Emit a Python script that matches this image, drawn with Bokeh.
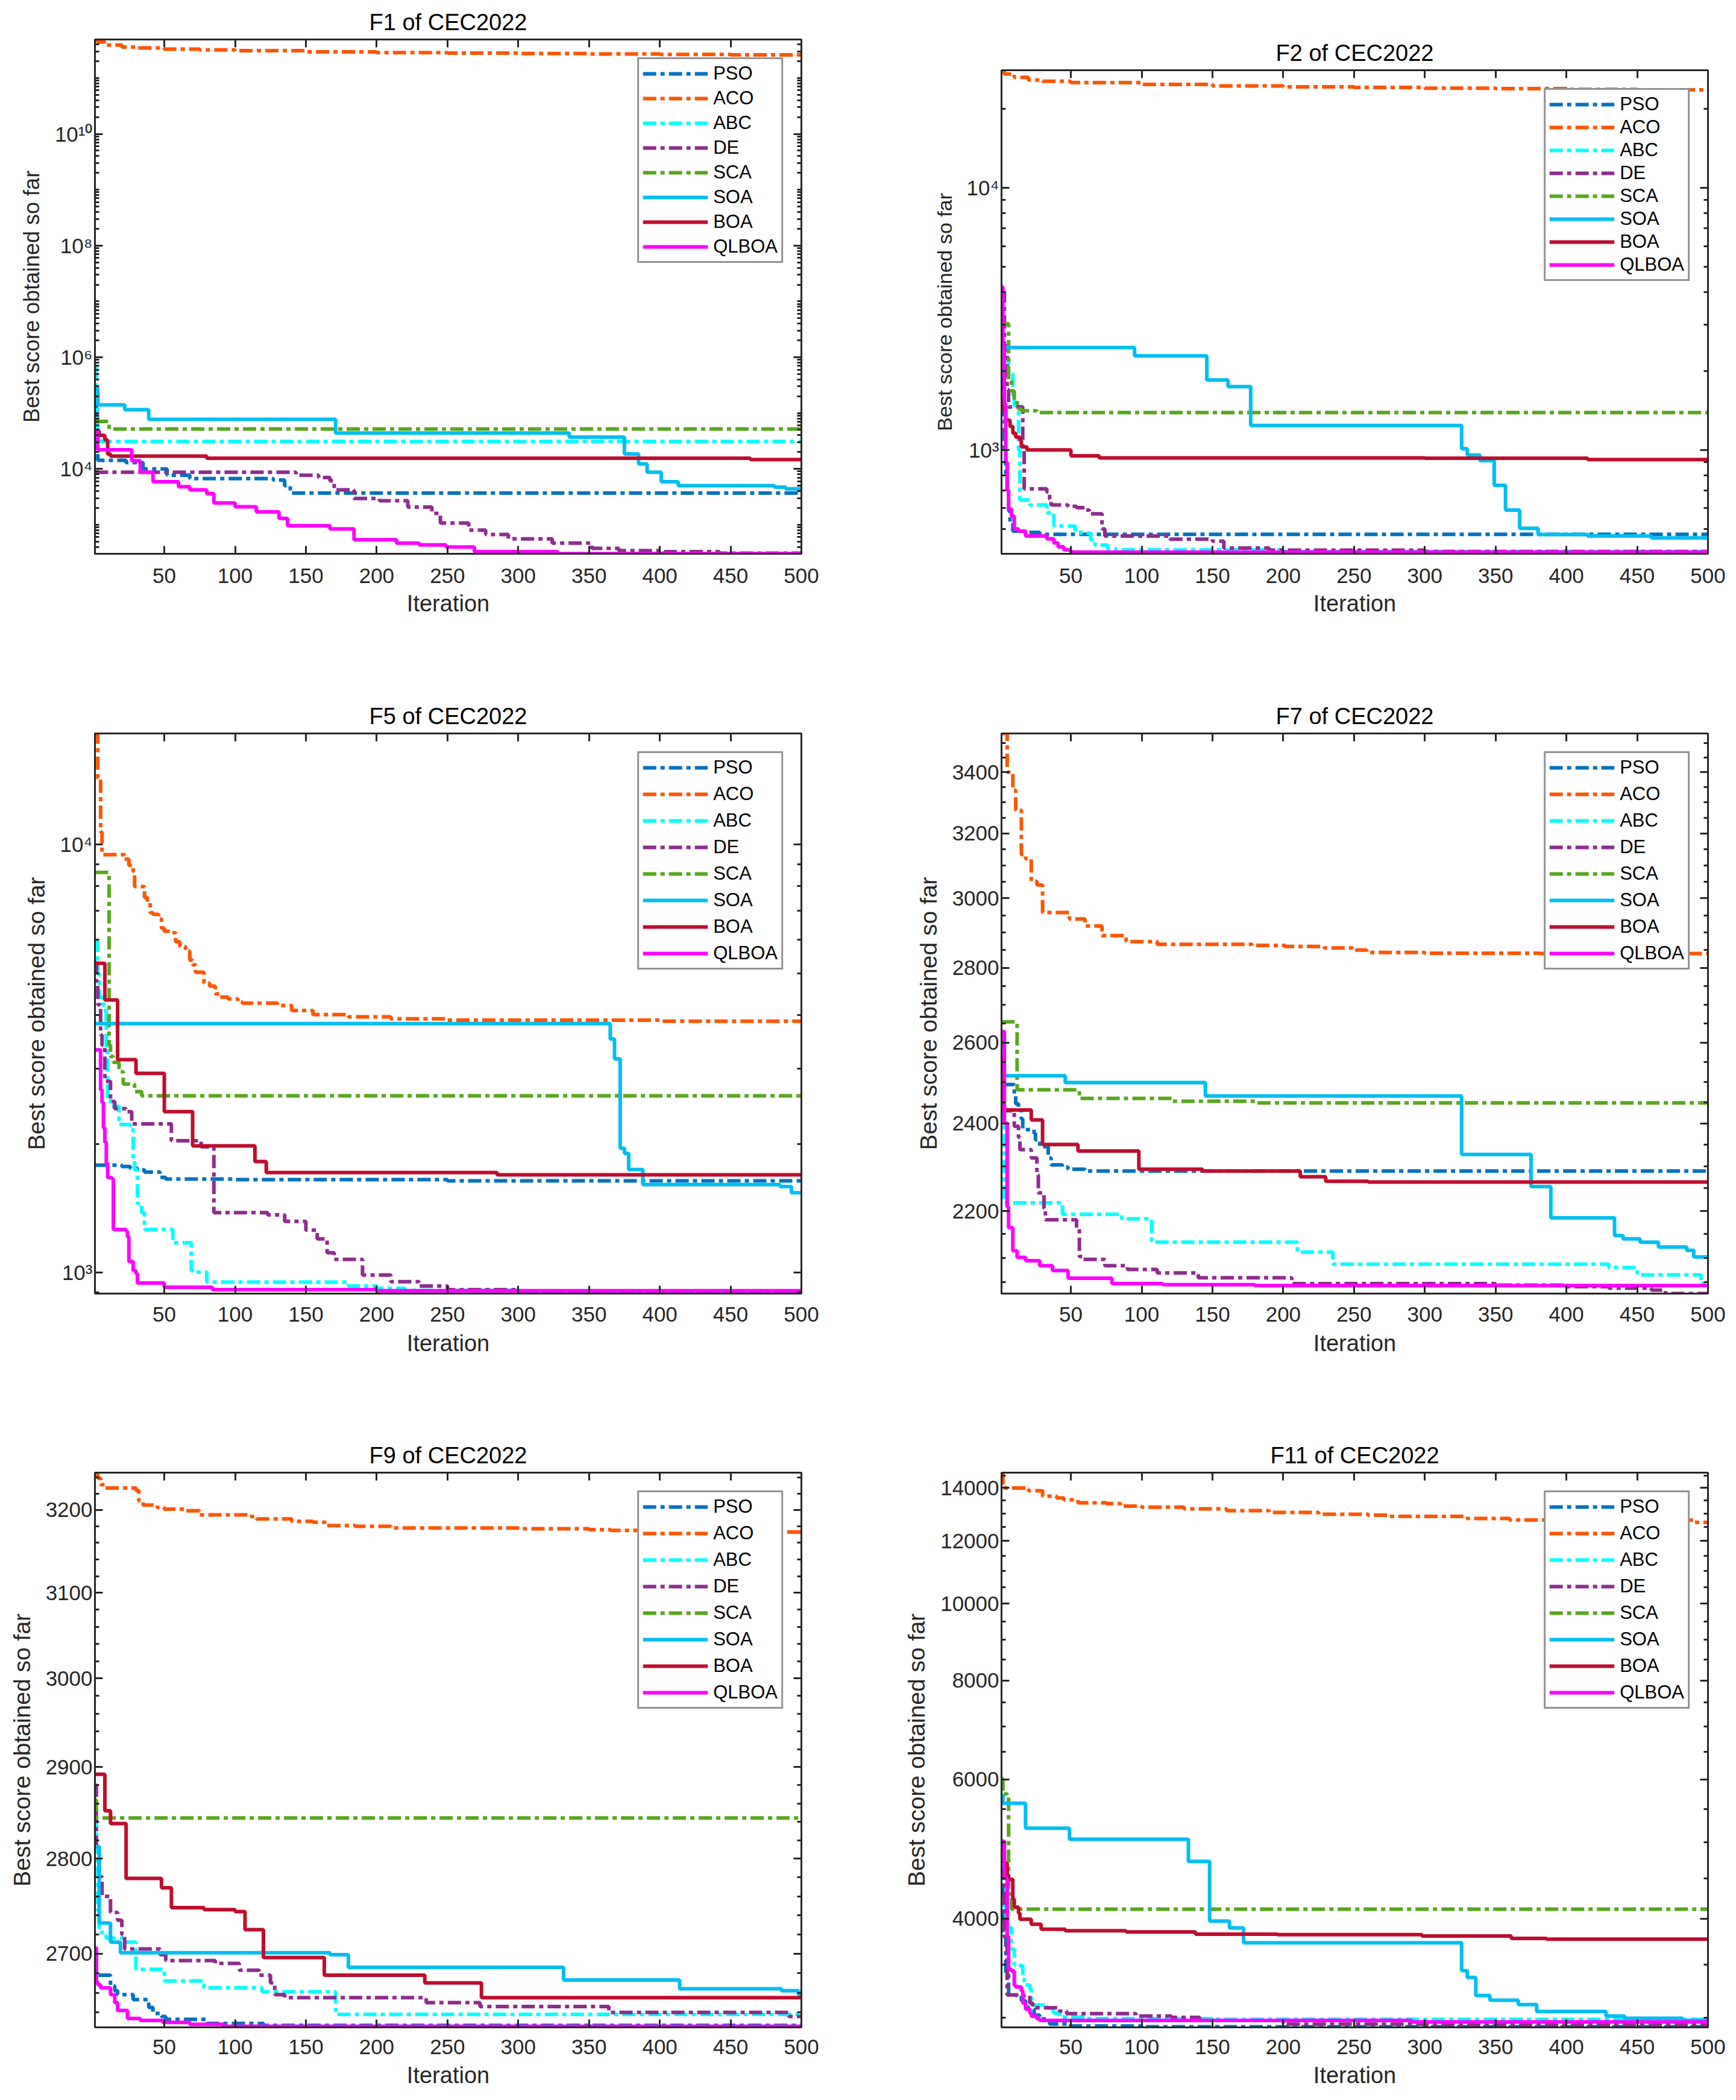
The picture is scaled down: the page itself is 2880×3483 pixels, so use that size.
from bokeh.plotting import figure
from bokeh.models import Range1d, FixedTicker, LinearAxis, LogAxis, CustomJSTickFormatter, Spacer
from bokeh.layouts import column, row
from bokeh.embed import file_html
from bokeh.resources import INLINE

ALGOS = ["PSO", "ACO", "ABC", "DE", "SCA", "SOA", "BOA", "QLBOA"]
LINE_COLORS = ["#0072C0", "#FF5500", "#00FFFF", "#8E2D8E", "#58A81C", "#00BEF2", "#BE0E2E", "#FF00FF"]
LINE_DASHES = ["22 7 7 7", "22 7 7 7", "22 7 7 7", "22 7 7 7", "22 7 7 7", "solid", "solid", "solid"]

X_TICKS = [50, 100, 150, 200, 250, 300, 350, 400, 450, 500]

# ---------------- F1 (iteration, best score) breakpoints ----------------
F1_PSO = [(1, 1.4e5), (2, 4.0e4), (3, 1.42e4), (23, 1.3e4), (35, 1.0e4), (52, 7.7e3), (68, 6.7e3),
          (127, 6.3e3), (135, 5.0e3), (139, 3.7e3), (500, 3.6e3)]
F1_ACO = [(1, 4.9e11), (3, 4.4e11), (8, 3.9e11), (20, 3.6e11), (30, 3.45e11), (50, 3.3e11), (75, 3.2e11),
          (100, 3.1e11), (150, 2.95e11), (200, 2.85e11), (250, 2.8e11), (300, 2.75e11), (350, 2.7e11),
          (400, 2.65e11), (450, 2.6e11), (500, 2.57e11)]
F1_ABC = [(1, 6.6e5), (2, 2.3e5), (3, 4.0e4), (5, 3.1e4), (500, 3.1e4)]
F1_DE = [(1, 8.7e3), (143, 7.7e3), (159, 7.0e3), (167, 6.1e3), (170, 4.2e3), (184, 2.95e3), (202, 2.7e3),
         (222, 2.08e3), (239, 1.6e3), (245, 1.07e3), (265, 800), (277, 670), (293, 560), (324, 470),
         (352, 377), (371, 345), (403, 330), (442, 310), (500, 305)]
F1_SCA = [(1, 7.1e4), (11, 5.2e4), (500, 5.2e4)]
F1_SOA = [(1, 2.8e5), (3, 1.4e5), (22, 1.15e5), (39, 7.7e4), (171, 4.4e4), (336, 3.7e4), (375, 1.85e4),
          (385, 1.23e4), (391, 8.7e3), (401, 5.9e3), (413, 5.0e3), (481, 4.7e3), (489, 4.4e3), (500, 4.4e3)]
F1_BOA = [(1, 4.8e4), (4, 4.0e4), (8, 3.3e4), (10, 1.85e4), (12, 1.7e4), (80, 1.55e4), (464, 1.47e4),
          (500, 1.47e4)]
F1_QLBOA = [(1, 4.8e4), (3, 2.2e4), (27, 1.4e4), (33, 8.7e3), (42, 5.9e3), (60, 4.8e3), (68, 4.2e3),
            (80, 3.6e3), (85, 2.45e3), (100, 2.1e3), (115, 1.7e3), (131, 1.3e3), (137, 960), (167, 840),
            (184, 540), (214, 470), (230, 435), (249, 400), (269, 330), (328, 303), (500, 302)]

# ---------------- F2 ----------------
F2_PSO = [(1, 1870), (2, 1300), (3, 1000), (4, 800), (5, 698), (6, 586), (7, 525), (9, 490), (20, 485),
          (28, 477), (500, 473)]
F2_ACO = [(1, 2.81e4), (3, 2.72e4), (10, 2.64e4), (20, 2.58e4), (30, 2.55e4), (50, 2.52e4), (100, 2.48e4),
          (150, 2.45e4), (200, 2.43e4), (250, 2.415e4), (300, 2.40e4), (350, 2.39e4), (400, 2.375e4),
          (450, 2.365e4), (500, 2.36e4)]
F2_ABC = [(1, 2225), (6, 1950), (9, 1620), (10, 1480), (13, 1000), (14, 645), (21, 617), (33, 576), (38, 513),
          (53, 495), (57, 482), (64, 454), (67, 434), (76, 420), (82, 416), (200, 410), (500, 408)]
F2_DE = [(1, 4000), (3, 2500), (5, 1700), (6, 1460), (16, 1000), (17, 711), (33, 692), (35, 650), (36, 617),
         (48, 610), (54, 603), (60, 590), (63, 571), (72, 500), (74, 470), (120, 457), (150, 449), (158, 423),
         (190, 415), (300, 410), (500, 402)]
F2_SCA = [(1, 3100), (2, 3035), (6, 1860), (8, 1680), (10, 1540), (12, 1435), (15, 1413), (26, 1390),
          (500, 1390)]
F2_SOA = [(1, 2460), (95, 2285), (146, 1850), (161, 1745), (177, 1240), (326, 1011), (330, 957), (339, 911),
          (349, 733), (357, 590), (367, 503), (380, 476), (415, 470), (460, 462), (500, 462)]
F2_BOA = [(1, 1570), (2, 1430), (4, 1300), (7, 1230), (9, 1160), (11, 1120), (14, 1090), (15, 1028),
          (19, 1001), (50, 950), (70, 933), (300, 930), (415, 920), (500, 918)]
F2_QLBOA = [(1, 4195), (2, 2500), (3, 1500), (4, 900), (5, 700), (6, 596), (8, 560), (10, 500), (13, 490),
            (18, 470), (33, 458), (38, 442), (41, 427), (45, 416), (50, 408), (500, 406)]

# ---------------- F5 ----------------
F5_PSO = [(1, 1784), (20, 1771), (26, 1754), (31, 1740), (36, 1718), (47, 1670), (51, 1655), (100, 1650),
          (250, 1640), (500, 1633)]
F5_ACO = [(1, 18190), (3, 14300), (5, 10700), (6, 9475), (22, 9247), (25, 8950), (28, 8660), (29, 7980),
          (36, 7526), (38, 7345), (40, 6935), (42, 6877), (46, 6710), (48, 6383), (50, 6280), (55, 6230),
          (58, 5932), (61, 5785), (65, 5645), (68, 5375), (70, 5238), (72, 5035), (78, 4750), (82, 4674),
          (86, 4482), (89, 4406), (95, 4362), (102, 4292), (105, 4264), (130, 4210), (140, 4100), (155, 4010),
          (180, 3960), (210, 3920), (250, 3890), (400, 3870), (500, 3855)]
F5_ABC = [(1, 5940), (3, 5000), (4, 4400), (7, 4100), (9, 3300), (10, 2570), (12, 2450), (18, 2220),
          (26, 2156), (28, 1828), (29, 1740), (31, 1452), (34, 1382), (36, 1263), (56, 1175), (69, 1011),
          (71, 1003), (80, 951), (180, 931), (200, 920), (220, 909), (300, 904), (500, 898)]
F5_DE = [(1, 5300), (2, 4800), (3, 4230), (5, 3590), (6, 3400), (8, 2800), (12, 2512), (15, 2418),
         (23, 2379), (27, 2227), (55, 2035), (76, 1969), (85, 1382), (123, 1365), (135, 1318), (150, 1258),
         (158, 1200), (165, 1114), (170, 1075), (190, 988), (210, 953), (230, 931), (250, 913), (300, 896),
         (500, 894)]
F5_SCA = [(1, 8610), (11, 3400), (12, 3200), (14, 3100), (18, 2950), (21, 2760), (29, 2650), (34, 2590),
          (500, 2590)]
F5_SOA = [(1, 3820), (365, 3515), (368, 3160), (372, 1954), (375, 1900), (378, 1742), (388, 1607),
          (485, 1590), (493, 1538), (500, 1538)]
F5_BOA = [(1, 5284), (8, 4337), (17, 3147), (30, 2922), (50, 2379), (70, 1979), (114, 1819), (122, 1715),
          (285, 1693), (500, 1693)]
F5_QLBOA = [(1, 3317), (5, 2673), (6, 2500), (7, 2180), (8, 2018), (9, 1800), (10, 1669), (13, 1657),
            (14, 1262), (23, 1249), (24, 1213), (25, 1062), (28, 1011), (30, 995), (31, 946), (50, 925),
            (84, 913), (200, 908), (500, 908)]

# ---------------- F7 ----------------
F7_PSO = [(1, 2494), (10, 2466), (11, 2447), (13, 2432), (15, 2410), (16, 2385), (24, 2376), (25, 2361),
          (28, 2345), (34, 2319), (36, 2303), (44, 2298), (48, 2293), (60, 2289), (500, 2289)]
F7_ACO = [(1, 3533), (5, 3400), (9, 3340), (11, 3274), (15, 3133), (18, 3120), (22, 3051), (26, 3040),
          (30, 2958), (49, 2939), (60, 2919), (72, 2891), (89, 2874), (111, 2866), (178, 2863), (201, 2860),
          (229, 2856), (249, 2850), (259, 2843), (300, 2841), (381, 2840), (500, 2835)]
F7_ABC = [(1, 2430), (3, 2218), (44, 2193), (86, 2183), (107, 2133), (210, 2112), (235, 2087), (430, 2080),
          (450, 2065), (495, 2047), (500, 2047)]
F7_DE = [(1, 2500), (3, 2430), (10, 2393), (13, 2367), (14, 2338), (22, 2319), (26, 2280), (27, 2240),
         (31, 2206), (32, 2181), (54, 2162), (56, 2103), (58, 2097), (74, 2084), (90, 2076), (111, 2069),
         (140, 2059), (206, 2047), (350, 2044), (400, 2041), (430, 2038), (460, 2034), (470, 2027), (500, 2027)]
F7_SCA = [(1, 2654), (12, 2481), (56, 2460), (122, 2453), (181, 2449), (500, 2449)]
F7_SOA = [(1, 2516), (46, 2499), (145, 2466), (326, 2327), (375, 2254), (389, 2185), (434, 2147),
          (440, 2140), (452, 2133), (465, 2123), (485, 2116), (490, 2102), (500, 2102)]
F7_BOA = [(1, 2560), (2, 2432), (22, 2408), (30, 2350), (55, 2335), (98, 2293), (143, 2289), (212, 2276),
          (230, 2266), (260, 2264), (500, 2264)]
F7_QLBOA = [(1, 2629), (3, 2400), (5, 2209), (6, 2164), (9, 2115), (12, 2101), (18, 2094), (28, 2084),
            (37, 2074), (48, 2058), (79, 2047), (115, 2045), (180, 2043), (500, 2043)]

# ---------------- F9 ----------------
F9_PSO = [(1, 2701), (2, 2678), (12, 2667), (15, 2662), (17, 2658), (28, 2653), (39, 2645), (42, 2639),
          (48, 2636), (51, 2633), (80, 2629), (120, 2627), (500, 2626)]
F9_ACO = [(1, 3246), (3, 3239), (5, 3231), (8, 3227), (30, 3224), (32, 3211), (35, 3206), (45, 3203),
          (50, 3201), (65, 3199), (75, 3194), (110, 3192), (115, 3189), (140, 3186), (155, 3185), (165, 3181),
          (185, 3180), (210, 3178), (300, 3177), (350, 3176), (365, 3175), (420, 3173), (500, 3171)]
F9_ABC = [(1, 2846), (2, 2790), (3, 2745), (4, 2722), (9, 2716), (21, 2712), (30, 2684), (50, 2672),
          (78, 2665), (119, 2661), (171, 2638), (500, 2637)]
F9_DE = [(1, 2880), (2, 2813), (4, 2781), (6, 2760), (12, 2743), (17, 2735), (20, 2720), (22, 2705),
         (47, 2699), (51, 2693), (86, 2690), (103, 2683), (117, 2678), (125, 2670), (128, 2658), (135, 2655),
         (235, 2650), (273, 2646), (364, 2640), (491, 2636), (500, 2636)]
F9_SCA = [(1, 2864), (2, 2844), (500, 2844)]
F9_SOA = [(1, 2813), (4, 2732), (12, 2712), (19, 2701), (167, 2699), (180, 2686), (332, 2673), (414, 2664),
          (486, 2662), (498, 2658), (500, 2658)]
F9_BOA = [(1, 2892), (8, 2852), (12, 2838), (23, 2779), (48, 2769), (55, 2748), (78, 2746), (100, 2744),
          (107, 2725), (120, 2696), (163, 2678), (234, 2670), (274, 2655), (500, 2655)]
F9_QLBOA = [(1, 2706), (2, 2671), (3, 2668), (5, 2665), (12, 2658), (15, 2650), (17, 2642), (24, 2634),
            (33, 2632), (49, 2630), (68, 2628), (92, 2626), (500, 2625)]

# ---------------- F11 ----------------
F11_PSO = [(1, 4400), (2, 3800), (4, 3400), (6, 3205), (15, 3152), (18, 3097), (20, 3075), (24, 3022),
           (28, 2990), (35, 2945), (48, 2928), (100, 2922), (500, 2917)]
F11_ACO = [(1, 14640), (2, 14000), (18, 13950), (20, 13890), (30, 13675), (40, 13600), (45, 13530),
           (55, 13410), (75, 13380), (85, 13285), (100, 13240), (130, 13180), (160, 13110), (190, 13040),
           (225, 12970), (260, 12940), (275, 12890), (330, 12815), (360, 12760), (420, 12750), (490, 12670),
           (500, 12670)]
F11_ABC = [(1, 4160), (4, 3900), (8, 3662), (10, 3498), (14, 3488), (16, 3357), (17, 3299), (21, 3262),
           (22, 3168), (23, 3113), (32, 3094), (34, 3059), (38, 3041), (42, 3006), (60, 2992), (150, 2985),
           (500, 2976)]
F11_DE = [(1, 4990), (2, 4500), (3, 3800), (5, 3205), (12, 3197), (21, 3130), (23, 3100), (25, 3088),
          (42, 3059), (47, 3036), (96, 3015), (121, 3003), (141, 2976), (200, 2944), (300, 2936), (500, 2929)]
F11_SCA = [(1, 6010), (2, 5750), (5, 5700), (6, 4300), (8, 4113), (500, 4110)]
F11_SOA = [(1, 5730), (2, 5598), (18, 5204), (49, 5041), (133, 4727), (148, 3973), (162, 3896), (172, 3730),
           (326, 3439), (330, 3372), (336, 3199), (346, 3157), (366, 3116), (379, 3055), (428, 3015),
           (441, 2995), (482, 2976), (500, 2976)]
F11_BOA = [(1, 4870), (3, 4700), (5, 4543), (6, 4487), (9, 4236), (10, 4137), (13, 4065), (14, 3995),
           (22, 3937), (29, 3881), (46, 3863), (89, 3850), (138, 3825), (196, 3820), (298, 3805), (361, 3778),
           (386, 3770), (500, 3770)]
F11_QLBOA = [(1, 5012), (3, 4500), (5, 3800), (6, 3454), (8, 3436), (10, 3296), (11, 3281), (15, 3244),
             (16, 3130), (18, 3076), (21, 3040), (22, 3013), (26, 2991), (28, 2976), (291, 2964), (500, 2964)]

# ---------------- y tick positions ----------------
F1_Y_TICKS = [1e4, 1e6, 1e8, 1e10]
F1_Y_MINOR = [k * 10.0 ** n for n in range(2, 12) for k in range(1, 10) if k * 10.0 ** n not in F1_Y_TICKS]
F2_Y_TICKS = [1e3, 1e4]
F2_Y_MINOR = [k * 10.0 ** n for n in (2, 3, 4) for k in range(1, 10) if k * 10.0 ** n not in F2_Y_TICKS]
F5_Y_TICKS = [1e3, 1e4]
F5_Y_MINOR = [k * 10.0 ** n for n in (2, 3, 4) for k in range(1, 10) if k * 10.0 ** n not in F5_Y_TICKS]
F7_Y_TICKS = [2200, 2400, 2600, 2800, 3000, 3200, 3400]
F7_Y_MINOR = [v for v in range(2000, 3601, 50) if v not in F7_Y_TICKS]
F9_Y_TICKS = [2700, 2800, 2900, 3000, 3100, 3200]
F9_Y_MINOR = [v for v in range(2600, 3261, 20) if v not in F9_Y_TICKS]
F11_Y_TICKS = [4000, 6000, 8000, 10000, 12000, 14000]
F11_Y_MINOR = [v for v in range(2500, 15001, 500) if v not in F11_Y_TICKS]

FONT = "Liberation Sans"
AX_COLOR = "#262626"

SUP_JS = """
const s = ['\\u2070','\\u00B9','\\u00B2','\\u00B3','\\u2074','\\u2075','\\u2076','\\u2077','\\u2078','\\u2079'];
const e = Math.round(Math.log10(tick));
return '10' + String(e).split('').map(c => s[parseInt(c)]).join('');
"""
PLAIN_JS = "return Math.round(tick).toString();"
EMPTY_JS = "return '';"


def style_axis(ax, tick_len=13, minor_len=7):
    ax.axis_line_color = AX_COLOR
    ax.axis_line_width = 3
    ax.major_tick_line_color = AX_COLOR
    ax.major_tick_line_width = 3
    ax.minor_tick_line_color = AX_COLOR
    ax.minor_tick_line_width = 3
    ax.major_tick_in = tick_len
    ax.major_tick_out = 0
    ax.minor_tick_in = minor_len
    ax.minor_tick_out = 0
    ax.major_label_text_font = FONT
    ax.major_label_text_color = AX_COLOR
    ax.axis_label_text_font = FONT
    ax.axis_label_text_color = AX_COLOR
    ax.axis_label_text_font_style = "normal"


def build(title, series, yticks, yminor, sup, w, h, borders, ylab_size, leg_spacing, xstand=(20, 10)):
    vals = [v for s in series for (_, v) in s]
    lo, hi = min(vals), max(vals)
    left, right, top, bottom = borders
    p = figure(width=w, height=h, x_range=Range1d(1, 500), y_range=Range1d(lo, hi),
               y_axis_type="log", output_backend="svg", toolbar_location=None,
               min_border_left=left, min_border_right=right, min_border_top=top, min_border_bottom=bottom)
    p.title = None
    p.background_fill_color = "white"
    p.border_fill_color = "white"
    p.outline_line_color = AX_COLOR
    p.outline_line_width = 3
    p.xgrid.grid_line_color = None
    p.ygrid.grid_line_color = None

    for s, name, col, dash in zip(series, ALGOS, LINE_COLORS, LINE_DASHES):
        xs = [it for (it, _) in s]
        ys = [v for (_, v) in s]
        p.step(xs, ys, mode="after", line_color=col, line_width=6, line_dash=dash, legend_label=name)

    xa = p.xaxis[0]
    style_axis(xa)
    xa.ticker = FixedTicker(ticks=X_TICKS, minor_ticks=[])
    xa.axis_label = "Iteration"
    xa.axis_label_text_font_size = "38px"
    xa.major_label_text_font_size = "35px"
    xa.major_label_standoff = xstand[0]
    xa.axis_label_standoff = xstand[1]

    ya = p.yaxis[0]
    style_axis(ya)
    ya.ticker = FixedTicker(ticks=yticks, minor_ticks=yminor)
    ya.formatter = CustomJSTickFormatter(code=SUP_JS if sup else PLAIN_JS)
    ya.axis_label = "Best score obtained so far"
    ya.axis_label_text_font_size = "%dpx" % ylab_size
    ya.major_label_text_font_size = "35px"
    ya.major_label_standoff = 4
    ya.axis_label_standoff = 15

    # top axis: inward ticks, carries the panel title as its label
    top_ax = LinearAxis(ticker=FixedTicker(ticks=X_TICKS, minor_ticks=[]),
                        formatter=CustomJSTickFormatter(code=EMPTY_JS))
    style_axis(top_ax)
    top_ax.major_label_text_font_size = "1px"
    top_ax.major_label_standoff = 0
    top_ax.axis_label = title
    top_ax.axis_label_text_font_size = "38px"
    top_ax.axis_label_text_color = "#000000"
    top_ax.axis_label_standoff = 8
    p.add_layout(top_ax, "above")

    right_ax = LogAxis(ticker=FixedTicker(ticks=yticks, minor_ticks=yminor),
                       formatter=CustomJSTickFormatter(code=EMPTY_JS))
    style_axis(right_ax)
    right_ax.major_label_text_font_size = "1px"
    right_ax.major_label_standoff = 0
    p.add_layout(right_ax, "right")

    lg = p.legend[0]
    lg.location = "top_right"
    lg.margin = 30
    lg.padding = 6
    lg.spacing = leg_spacing
    lg.glyph_width = 108
    lg.glyph_height = 30
    lg.label_height = 30
    lg.label_standoff = 9
    lg.label_text_font = FONT
    lg.label_text_font_size = "31px"
    lg.label_text_color = "#000000"
    lg.border_line_color = AX_COLOR
    lg.border_line_width = 3
    lg.background_fill_color = "white"
    lg.background_fill_alpha = 1.0
    return p


W = 1432
H1, H2, H3 = 1092, 1190, 1185
F2_DROP = 59

# row 1: F1 frame 73..926, F2 frame 124..926
p1 = build("F1 of CEC2022", [F1_PSO, F1_ACO, F1_ABC, F1_DE, F1_SCA, F1_SOA, F1_BOA, F1_QLBOA],
           F1_Y_TICKS, F1_Y_MINOR, True, W, H1, (157, 103, 65, 174), 36, 5, (24, 10))
p2 = build("F2 of CEC2022", [F2_PSO, F2_ACO, F2_ABC, F2_DE, F2_SCA, F2_SOA, F2_BOA, F2_QLBOA],
           F2_Y_TICKS, F2_Y_MINOR, True, W, H1 - F2_DROP, (229, 31, 57, 174), 34, 2, (24, 10))
# row 2: frames 1224..2153
p5 = build("F5 of CEC2022", [F5_PSO, F5_ACO, F5_ABC, F5_DE, F5_SCA, F5_SOA, F5_BOA, F5_QLBOA],
           F5_Y_TICKS, F5_Y_MINOR, True, W, H2, (157, 103, 124, 137), 39, 8, (22, 12))
p7 = build("F7 of CEC2022", [F7_PSO, F7_ACO, F7_ABC, F7_DE, F7_SCA, F7_SOA, F7_BOA, F7_QLBOA],
           F7_Y_TICKS, F7_Y_MINOR, False, W, H2, (229, 31, 124, 137), 39, 8, (22, 12))
# row 3: frames 2450..3370
p9 = build("F9 of CEC2022", [F9_PSO, F9_ACO, F9_ABC, F9_DE, F9_SCA, F9_SOA, F9_BOA, F9_QLBOA],
           F9_Y_TICKS, F9_Y_MINOR, False, W, H3, (157, 103, 160, 105), 39, 8, (20, 11))
p11 = build("F11 of CEC2022", [F11_PSO, F11_ACO, F11_ABC, F11_DE, F11_SCA, F11_SOA, F11_BOA, F11_QLBOA],
            F11_Y_TICKS, F11_Y_MINOR, False, W, H3, (229, 31, 160, 105), 39, 8, (20, 11))

layout = column(
    row(p1, column(Spacer(width=W, height=F2_DROP), p2)),
    row(p5, p7),
    row(p9, p11),
)

with open("out.html", "w", encoding="utf-8") as f:
    f.write(file_html(layout, INLINE))
